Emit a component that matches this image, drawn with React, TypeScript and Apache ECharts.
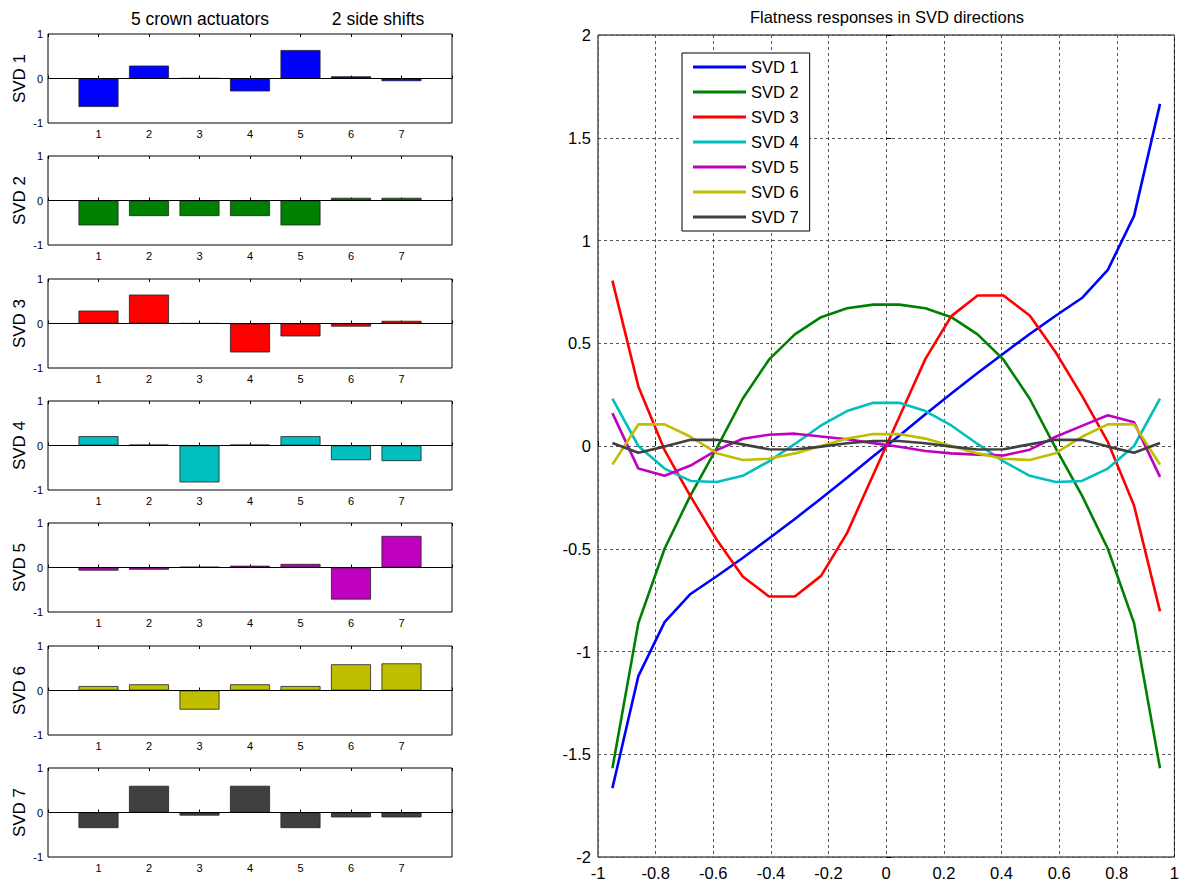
import React, { useEffect, useRef } from "react";
import * as echarts from "echarts";

const ACTUATORS = [1, 2, 3, 4, 5, 6, 7];
const BAR_SVD1 = [-0.64, 0.29, 0.006, -0.29, 0.64, 0.05, -0.06];
const BAR_SVD2 = [-0.56, -0.35, -0.35, -0.35, -0.56, 0.06, 0.06];
const BAR_SVD3 = [0.29, 0.65, 0.004, -0.65, -0.29, -0.07, 0.06];
const BAR_SVD4 = [0.21, 0.02, -0.83, 0.02, 0.21, -0.33, -0.35];
const BAR_SVD5 = [-0.07, -0.05, 0.015, 0.04, 0.08, -0.72, 0.71];
const BAR_SVD6 = [0.1, 0.14, -0.43, 0.14, 0.1, 0.59, 0.61];
const BAR_SVD7 = [-0.35, 0.6, -0.07, 0.6, -0.35, -0.11, -0.11];

const NAMES = ["SVD 1", "SVD 2", "SVD 3", "SVD 4", "SVD 5", "SVD 6", "SVD 7"];
const COLORS = ["#0000FF", "#008000", "#FF0000", "#00BFBF", "#BF00BF", "#BFBF00", "#404040"];

const POSITIONS = [-0.95, -0.86, -0.769, -0.679, -0.588, -0.498, -0.407, -0.317, -0.226, -0.136, -0.045,
  0.045, 0.136, 0.226, 0.317, 0.407, 0.498, 0.588, 0.679, 0.769, 0.86, 0.95];
const LINE_SVD1 = [-1.665, -1.12, -0.857, -0.72, -0.634, -0.545, -0.45, -0.355, -0.255, -0.155, -0.05,
  0.05, 0.155, 0.255, 0.355, 0.45, 0.545, 0.634, 0.72, 0.857, 1.12, 1.665];
const LINE_SVD2 = [-1.568, -0.862, -0.5, -0.24, -0.01, 0.23, 0.42, 0.543, 0.627, 0.67, 0.688,
  0.688, 0.67, 0.627, 0.543, 0.42, 0.23, -0.01, -0.24, -0.5, -0.862, -1.568];
const LINE_SVD3 = [0.805, 0.29, -0.02, -0.245, -0.456, -0.635, -0.732, -0.732, -0.632, -0.424, -0.14,
  0.14, 0.424, 0.632, 0.732, 0.732, 0.635, 0.456, 0.245, 0.02, -0.29, -0.805];
const LINE_SVD4 = [0.23, 0.0, -0.11, -0.17, -0.175, -0.145, -0.075, 0.01, 0.1, 0.17, 0.21,
  0.21, 0.17, 0.1, 0.01, -0.075, -0.145, -0.175, -0.17, -0.11, 0.0, 0.23];
const LINE_SVD5 = [0.16, -0.11, -0.145, -0.095, -0.02, 0.035, 0.055, 0.06, 0.046, 0.033, 0.014,
  -0.004, -0.024, -0.036, -0.042, -0.046, -0.018, 0.045, 0.098, 0.15, 0.115, -0.15];
const LINE_SVD6 = [-0.09, 0.105, 0.105, 0.045, -0.035, -0.068, -0.062, -0.036, 0.0, 0.036, 0.058,
  0.058, 0.036, 0.0, -0.036, -0.062, -0.068, -0.035, 0.045, 0.105, 0.105, -0.09];
const LINE_SVD7 = [0.015, -0.033, -0.003, 0.03, 0.03, 0.008, -0.016, -0.017, -0.003, 0.013, 0.024,
  0.024, 0.013, -0.003, -0.017, -0.016, 0.008, 0.03, 0.03, -0.003, -0.033, 0.015];

const HEADERS = ["5 crown actuators", "2 side shifts"];
const TITLE = "Flatness responses in SVD directions";

const BARS = [BAR_SVD1, BAR_SVD2, BAR_SVD3, BAR_SVD4, BAR_SVD5, BAR_SVD6, BAR_SVD7];
const LINES = [LINE_SVD1, LINE_SVD2, LINE_SVD3, LINE_SVD4, LINE_SVD5, LINE_SVD6, LINE_SVD7];

const FONT = "Liberation Sans, Arial, Helvetica, sans-serif";

export default function App() {
  const ref = useRef<HTMLDivElement>(null);
  useEffect(() => {
    if (!ref.current) return;
    const chart = echarts.init(ref.current, null, { renderer: "svg" });

    const barLeft = 48;
    const barWidthPx = 404;
    const barHeight = 89;
    const barTops = BARS.map((_, i) => 34 + Math.round(i * 122.3));

    const grids: any[] = [];
    const xAxes: any[] = [];
    const yAxes: any[] = [];
    const series: any[] = [];
    const graphics: any[] = [];

    BARS.forEach((vals, i) => {
      grids.push({
        left: barLeft, top: barTops[i], width: barWidthPx, height: barHeight,
        show: true, borderColor: "#000", borderWidth: 1, backgroundColor: "#fff",
      });
      xAxes.push({
        type: "value", gridIndex: i, min: 0, max: 8, interval: 1, position: "bottom",
        axisLine: { show: false },
        axisTick: { show: true, inside: true, length: 3, lineStyle: { color: "#000" } },
        axisLabel: {
          fontSize: 11, color: "#000", margin: 5, fontFamily: FONT,
          formatter: (v: number) => (v >= 1 && v <= 7 ? String(v) : ""),
        },
        splitLine: { show: false },
      });
      xAxes.push({
        type: "value", gridIndex: i, min: 0, max: 8, interval: 1, position: "top",
        axisLine: { show: false },
        axisTick: { show: true, inside: true, length: 3, lineStyle: { color: "#000" } },
        axisLabel: { show: false },
        splitLine: { show: false },
      });
      yAxes.push({
        type: "value", gridIndex: i, min: -1, max: 1, interval: 1,
        axisLine: { show: false }, axisTick: { show: false },
        axisLabel: { fontSize: 11, color: "#000", margin: 5, fontFamily: FONT },
        splitLine: { show: false },
      });
      series.push({
        type: "bar", xAxisIndex: 2 * i, yAxisIndex: i,
        data: ACTUATORS.map((a, j) => [a, vals[j]]),
        barWidth: 40,
        itemStyle: { color: COLORS[i], borderColor: "#222", borderWidth: 0.8 },
        markLine: {
          silent: true, symbol: "none", label: { show: false },
          lineStyle: { color: "#000", width: 1, type: "solid" },
          data: [{ yAxis: 0 }],
          animation: false,
        },
      });
      graphics.push({
        type: "text", x: 19, y: barTops[i] + barHeight / 2, rotation: Math.PI / 2,
        style: { text: NAMES[i], align: "center", verticalAlign: "middle", fontSize: 17, fill: "#000", fontFamily: FONT },
      });
    });

    // line chart grid
    const lg = BARS.length;
    grids.push({
      left: 598, top: 35, width: 578, height: 823,
      show: true, borderColor: "#000", borderWidth: 1, backgroundColor: "#fff",
    });
    const fmt = (v: number) => String(Number(v.toFixed(1)));
    xAxes.push({
      type: "value", gridIndex: lg, min: -1, max: 1, interval: 0.2,
      axisLine: { show: false },
      axisTick: { show: true, inside: true, length: 5, lineStyle: { color: "#000" } },
      axisLabel: { fontSize: 16.5, color: "#000", margin: 7, fontFamily: FONT, formatter: fmt },
      splitLine: { show: true, lineStyle: { color: "#555", type: [3, 3], width: 1 } },
    });
    yAxes.push({
      type: "value", gridIndex: lg, min: -2, max: 2, interval: 0.5,
      axisLine: { show: false },
      axisTick: { show: true, inside: true, length: 5, lineStyle: { color: "#000" } },
      axisLabel: { fontSize: 16.5, color: "#000", margin: 7, fontFamily: FONT, formatter: fmt },
      splitLine: { show: true, lineStyle: { color: "#555", type: [3, 3], width: 1 } },
    });
    LINES.forEach((vals, i) => {
      series.push({
        type: "line", name: NAMES[i], xAxisIndex: 2 * lg, yAxisIndex: lg,
        data: POSITIONS.map((x, j) => [x, vals[j]]),
        showSymbol: false, symbol: "none",
        lineStyle: { color: COLORS[i], width: 2.6 },
        itemStyle: { color: COLORS[i] },
        z: 3,
      });
    });

    graphics.push({
      type: "text", x: 200, y: 19,
      style: { text: HEADERS[0], align: "center", verticalAlign: "middle", fontSize: 17.5, fill: "#000", fontFamily: FONT },
    });
    graphics.push({
      type: "text", x: 378, y: 19,
      style: { text: HEADERS[1], align: "center", verticalAlign: "middle", fontSize: 17.5, fill: "#000", fontFamily: FONT },
    });
    graphics.push({
      type: "text", x: 887, y: 17,
      style: { text: TITLE, align: "center", verticalAlign: "middle", fontSize: 16.5, fill: "#000", fontFamily: FONT },
    });

    chart.setOption({
      animation: false,
      textStyle: { fontFamily: FONT },
      grid: grids,
      xAxis: xAxes,
      yAxis: yAxes,
      series,
      legend: {
        show: true, orient: "vertical", left: 682, top: 53,
        padding: [5, 11, 5, 11], itemWidth: 53, itemHeight: 3, itemGap: 7,
        icon: "rect", selectedMode: false,
        borderColor: "#000", borderWidth: 1, backgroundColor: "#fff",
        textStyle: { fontSize: 16.5, lineHeight: 18, color: "#000", fontFamily: FONT },
        data: NAMES,
        z: 10,
      },
      graphic: graphics,
    });

    return () => chart.dispose();
  }, []);

  return (
    <div
      ref={ref}
      style={{ position: "absolute", left: 0, top: 0, width: 1182, height: 881, background: "#fff" }}
    />
  );
}
